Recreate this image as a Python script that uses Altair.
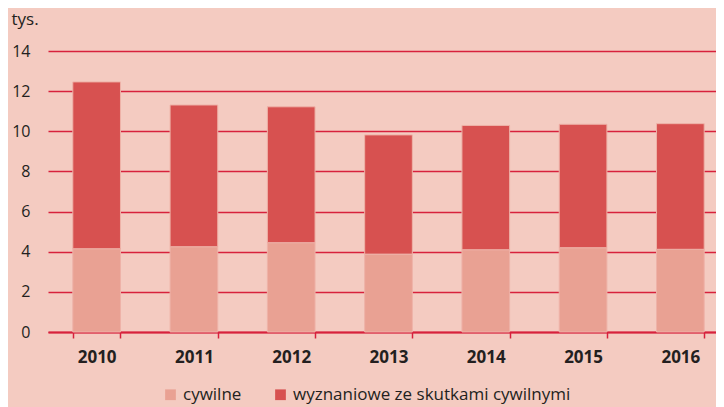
import altair as alt
import pandas as pd

years = ["2010", "2011", "2012", "2013", "2014", "2015", "2016"]
cywilne = [4.15, 4.25, 4.45, 3.88, 4.1, 4.2, 4.12]
totals = [12.46, 11.31, 11.22, 9.82, 10.29, 10.35, 10.38]
series = ["cywilne", "wyznaniowe ze skutkami cywilnymi"]
colors = ["#e9a193", "#d75150"]

rows = []
for y, c, t in zip(years, cywilne, totals):
    rows.append({"rok": y, "typ": series[0], "val": c, "ord": 0})
    rows.append({"rok": y, "typ": series[1], "val": round(t - c, 2), "ord": 1})
df = pd.DataFrame(rows)

FONT = "Open Sans"
TXT = "#231f20"
RED = "#d7213c"

chart = alt.Chart(df).mark_bar(stroke="#eeb2a8", strokeWidth=1).encode(
    x=alt.X("rok:N", title=None,
            scale=alt.Scale(paddingInner=0.51, paddingOuter=0.255, range=[0, 681]),
            axis=alt.Axis(labelAngle=0, labelFontWeight="bold", labelFontSize=17,
                          labelColor=TXT, labelFont=FONT, labelPadding=11,
                          domainColor=RED, domainWidth=2, tickColor=RED,
                          tickWidth=1.5, tickSize=6, tickBand="extent", grid=False)),
    y=alt.Y("val:Q", title="tys.", stack="zero",
            scale=alt.Scale(domain=[0, 14]),
            axis=alt.Axis(values=[0, 2, 4, 6, 8, 10, 12, 14], domain=False, ticks=False,
                          labelFontSize=16, labelColor=TXT, labelFont=FONT,
                          labelPadding=18, gridColor=RED, gridWidth=1.5,
                          titleAngle=0, titleAlign="left", titleBaseline="middle",
                          titleX=-37, titleY=-32, titleFontSize=17,
                          titleFontWeight="normal", titleFont=FONT, titleColor=TXT)),
    color=alt.Color("typ:N", title=None,
                    scale=alt.Scale(domain=series, range=colors),
                    legend=alt.Legend(orient="none", direction="horizontal",
                                      legendX=114, legendY=335,
                                      symbolType="square", symbolSize=115,
                                      symbolStrokeWidth=0, labelFontSize=17,
                                      labelFont=FONT, labelColor=TXT, labelLimit=500,
                                      columnPadding=30, labelOffset=4)),
    order=alt.Order("ord:Q"),
).properties(
    width=668, height=281, background="#f4cbc1",
    autosize=alt.AutoSizeParams(type="none"),
    padding={"left": 40, "top": 43, "right": 0, "bottom": 75},
).configure_view(stroke=None)

chart.save("out.html", embed_options={"renderer": "svg", "actions": False})
